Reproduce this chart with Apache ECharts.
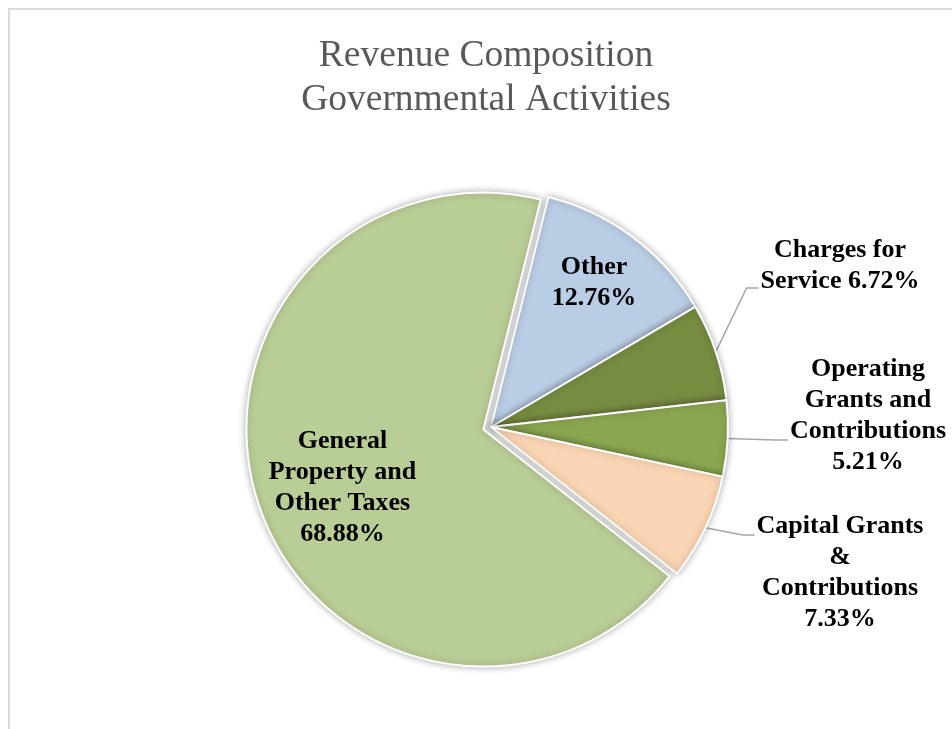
<!DOCTYPE html>
<html>
<head>
<meta charset="utf-8">
<title>Revenue Composition - Governmental Activities</title>
<script src="https://cdn.jsdelivr.net/npm/echarts@6/dist/echarts.min.js"></script>
<style>
  html, body { margin: 0; padding: 0; background: #ffffff; }
  #chart { width: 952px; height: 729px; }
</style>
</head>
<body>
<div id="chart"></div>
<script>
// Revenue sources, in clockwise order from the top of the pie
const categories = [
  'Other',
  'Charges for Service',
  'Operating Grants and Contributions',
  'Capital Grants & Contributions',
  'General Property and Other Taxes'
];
// Share of revenue, percent
const shares = [12.76, 6.72, 5.21, 7.33, 68.88];
// How each category name is broken across lines in its label
const labelHeads = [
  'Other\n',
  'Charges for\nService ',
  'Operating\nGrants and\nContributions\n',
  'Capital Grants\n&\nContributions\n',
  'General\nProperty and\nOther Taxes\n'
];
const sliceColors = ['#b9cde4', '#768c41', '#8ba651', '#fad5b4', '#b9cd96'];

// Label placement (block centre) and, for outside labels, the height of the leader hook.
// The pulled-out slice keeps its label at the library's inside spot, nudged by a
// spacer line on top and padding on the right.
const labelSpots = [
  { x: 594, y: 283 },
  { x: 840, y: 266, hook: 22 },
  { x: 868, y: 416, hook: 24 },
  { x: 840, y: 573, hook: -38 },
  null
];
const outside = [false, true, true, true, false];
const exploded = [false, false, false, false, true];

const chart = echarts.init(document.getElementById('chart'), null, { renderer: 'canvas' });

const seriesData = categories.map(function (name, i) {
  const label = { position: outside[i] ? 'outside' : 'inside' };
  if (exploded[i]) label.padding = [0, 52, 0, 0];
  return {
    name: name,
    value: shares[i],
    selected: exploded[i],
    itemStyle: { color: sliceColors[i] },
    label: label,
    labelLine: { show: outside[i] }
  };
});

chart.setOption({
  animation: false,
  backgroundColor: '#ffffff',
  graphic: [{
    type: 'rect',
    shape: { x: 9, y: 9, width: 1000, height: 800 },
    style: { fill: 'none', stroke: '#d9d9d9', lineWidth: 2 },
    silent: true
  }],
  title: {
    text: 'Revenue Composition\nGovernmental Activities',
    left: 481,
    top: 29,
    textAlign: 'center',
    textStyle: {
      fontFamily: '"Liberation Serif", "Times New Roman", serif',
      fontSize: 37.5,
      fontWeight: 'normal',
      color: '#595959',
      lineHeight: 44
    }
  },
  series: [{
    type: 'pie',
    center: [491, 427],
    radius: 237,
    startAngle: 76,
    clockwise: true,
    selectedMode: 'multiple',
    selectedOffset: 8,
    avoidLabelOverlap: false,
    itemStyle: {
      borderColor: '#ffffff',
      borderWidth: 2,
      shadowBlur: 7,
      shadowColor: 'rgba(0, 0, 0, 0.3)'
    },
    label: {
      show: true,
      color: '#000000',
      fontFamily: '"Liberation Serif", "Times New Roman", serif',
      fontWeight: 'bold',
      fontSize: 26,
      lineHeight: 31,
      rich: {
        gap: { fontSize: 10, lineHeight: 38 }
      },
      formatter: function (p) {
        const text = labelHeads[p.dataIndex] + p.value.toFixed(2) + '%';
        return exploded[p.dataIndex] ? '{gap| }\n' + text : text;
      }
    },
    labelLine: {
      length: 20,
      length2: 12,
      lineStyle: { color: '#a6a6a6', width: 1.5 }
    },
    labelLayout: function (p) {
      const spot = labelSpots[p.dataIndex];
      if (!spot) return {};
      const out = { x: spot.x, y: spot.y, align: 'center', verticalAlign: 'middle' };
      if (spot.hook != null && p.labelLinePoints) {
        const start = p.labelLinePoints[0];
        const endX = spot.x - p.labelRect.width / 2 - 2;
        const hookY = spot.y + spot.hook;
        out.labelLinePoints = [start, [endX - 12, hookY], [endX, hookY]];
      }
      return out;
    },
    emphasis: { disabled: true },
    data: seriesData
  }]
});
</script>
</body>
</html>
